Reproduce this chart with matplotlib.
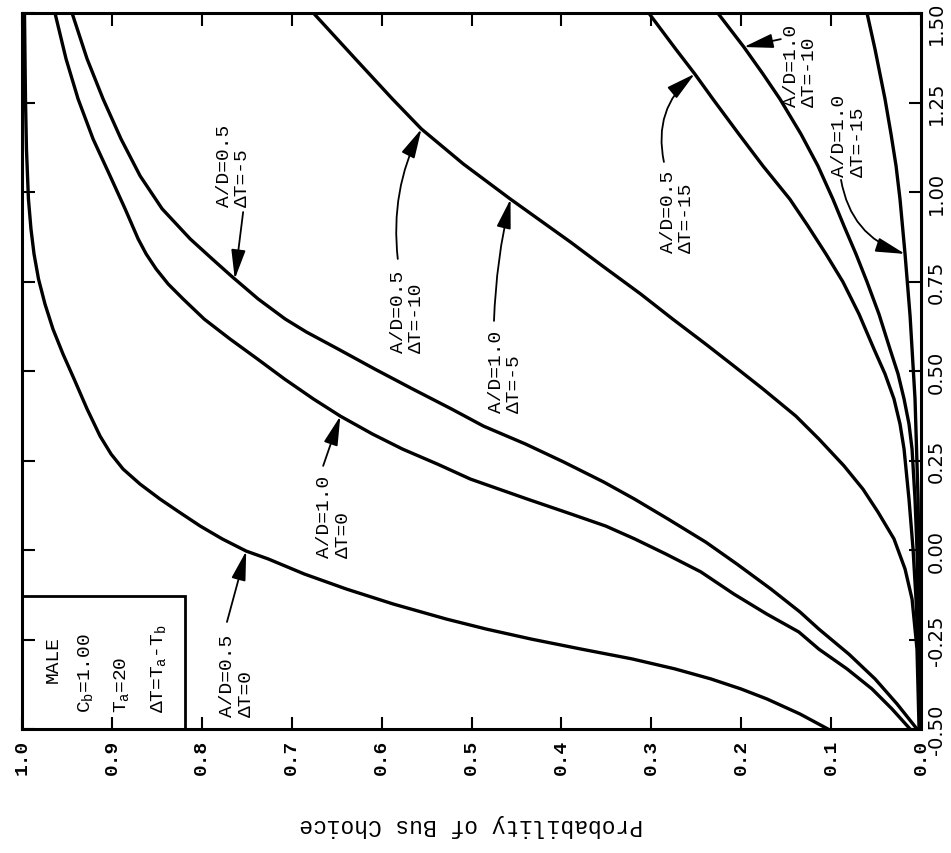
import numpy as np
import matplotlib
matplotlib.use('Agg')
import matplotlib.pyplot as plt
from matplotlib.patches import Rectangle
from matplotlib.transforms import ScaledTranslation

plt.rcParams['font.family'] = ['Liberation Mono', 'DejaVu Sans']
plt.rcParams['mathtext.fontset'] = 'custom'
plt.rcParams['mathtext.rm'] = 'Liberation Mono'
plt.rcParams['mathtext.it'] = 'Liberation Mono'
plt.rcParams['mathtext.default'] = 'rm'

# curves: x value (vertical axis) and probability of bus choice
c1_x = [-0.500, -0.458, -0.416, -0.388, -0.360, -0.332, -0.304, -0.277, -0.249, -0.221,
        -0.193, -0.151, -0.109, -0.067, -0.025, -0.003, 0.031, 0.067, 0.106, 0.142,
        0.184, 0.226, 0.268, 0.318, 0.394, 0.478, 0.547, 0.617, 0.687, 0.757,
        0.827, 0.897, 0.980, 1.120, 1.260, 1.500]
c1_p = [0.1036, 0.1347, 0.1715, 0.2004, 0.2339, 0.2739, 0.3218, 0.3775, 0.4332, 0.4833,
        0.5278, 0.5869, 0.6392, 0.6860, 0.7261, 0.7506, 0.7773, 0.8018, 0.8252, 0.8463,
        0.8686, 0.8875, 0.9009, 0.9131, 0.9276, 0.9421, 0.9543, 0.9655, 0.9744, 0.9816,
        0.9866, 0.9900, 0.9928, 0.9950, 0.9961, 0.9972]

c2_x = [-0.500, -0.444, -0.388, -0.332, -0.277, -0.229, -0.179, -0.123, -0.061, -0.011,
        0.031, 0.067, 0.101, 0.142, 0.198, 0.240, 0.282, 0.324, 0.374, 0.422,
        0.478, 0.534, 0.589, 0.645, 0.701, 0.743, 0.785, 0.827, 0.869, 0.953,
        1.045, 1.148, 1.260, 1.372, 1.500]
c2_p = [0.0122, 0.0323, 0.0546, 0.0824, 0.1136, 0.1359, 0.1715, 0.2082, 0.2450, 0.2840,
        0.3185, 0.3508, 0.3898, 0.4376, 0.5011, 0.5379, 0.5768, 0.6102, 0.6459, 0.6759,
        0.7082, 0.7383, 0.7684, 0.7973, 0.8207, 0.8374, 0.8508, 0.8619, 0.8708, 0.8853,
        0.9020, 0.9209, 0.9376, 0.9510, 0.9633]

c3_x = [-0.500, -0.430, -0.360, -0.291, -0.221, -0.173, -0.109, -0.039, 0.022, 0.087,
        0.142, 0.190, 0.246, 0.296, 0.346, 0.394, 0.450, 0.506, 0.561, 0.609,
        0.645, 0.701, 0.763, 0.813, 0.869, 0.953, 1.045, 1.148, 1.260, 1.372, 1.500]
c3_p = [0.0045, 0.0267, 0.0512, 0.0802, 0.1136, 0.1347, 0.1670, 0.2049, 0.2394, 0.2817,
        0.3185, 0.3530, 0.3976, 0.4399, 0.4866, 0.5223, 0.5657, 0.6080, 0.6481, 0.6837,
        0.7071, 0.7372, 0.7661, 0.7884, 0.8129, 0.8441, 0.8686, 0.8898, 0.9098, 0.9276,
        0.9443]

c4_x = [-0.500, -0.277, -0.137, -0.053, 0.031, 0.106, 0.170, 0.235, 0.310, 0.374,
        0.450, 0.514, 0.575, 0.645, 0.715, 0.793, 0.860, 0.980, 1.078, 1.176,
        1.260, 1.372, 1.500]
c4_p = [0.0022, 0.0045, 0.0100, 0.0178, 0.0301, 0.0479, 0.0646, 0.0857, 0.1136, 0.1392,
        0.1759, 0.2082, 0.2394, 0.2762, 0.3118, 0.3541, 0.3898, 0.4566, 0.5089, 0.5557,
        0.5880, 0.6292, 0.6759]

c5_x = [-0.500, -0.277, -0.137, 0.003, 0.142, 0.282, 0.352, 0.422, 0.492, 0.561,
        0.659, 0.749, 0.827, 0.905, 0.980, 1.073, 1.162, 1.260, 1.330, 1.399, 1.500]
c5_p = [0.0011, 0.0033, 0.0056, 0.0089, 0.0134, 0.0189, 0.0234, 0.0301, 0.0401, 0.0523,
        0.0690, 0.0869, 0.1058, 0.1258, 0.1459, 0.1759, 0.2027, 0.2316, 0.2517, 0.2728,
        0.3029]

c6_x = [-0.500, -0.277, 0.003, 0.142, 0.282, 0.352, 0.422, 0.492, 0.561, 0.659,
        0.749, 0.827, 0.905, 0.980, 1.073, 1.162, 1.260, 1.330, 1.405, 1.500]
c6_p = [0.0011, 0.0022, 0.0045, 0.0067, 0.0100, 0.0134, 0.0189, 0.0256, 0.0345, 0.0468,
        0.0601, 0.0724, 0.0857, 0.0980, 0.1147, 0.1336, 0.1570, 0.1759, 0.1971, 0.2261]

c7_x = [-0.500, -0.137, 0.142, 0.422, 0.654, 0.827, 0.980, 1.073, 1.162, 1.260, 1.399, 1.500]
c7_p = [0.0006, 0.0017, 0.0033, 0.0067, 0.0122, 0.0178, 0.0234, 0.0278, 0.0334, 0.0401,
        0.0512, 0.0601]

curves = [(c1_x, c1_p), (c2_x, c2_p), (c3_x, c3_p), (c4_x, c4_p),
          (c5_x, c5_p), (c6_x, c6_p), (c7_x, c7_p)]

prob_ticks = [1.0, 0.9, 0.8, 0.7, 0.6, 0.5, 0.4, 0.3, 0.2, 0.1, 0.0]
prob_labels = ['1.0', '0.9', '0.8', '0.7', '0.6', '0.5', '0.4', '0.3', '0.2', '0.1', '0.0']
xv_ticks = [-0.50, -0.25, 0.00, 0.25, 0.50, 0.75, 1.00, 1.25, 1.50]
xv_labels = ['-0.50', '-0.25', '0.00', '0.25', '0.50', '0.75', '1.00', '1.25', '1.50']

# labels: text, curve index, text pos (p, x), arrow start (p, x), arrow tip x, arc
labels = [
    ('A/D=0.5\nΔT=0', 0, (0.761, -0.464), (0.772, -0.201), -0.003, 0.0),
    ('A/D=1.0\nΔT=0', 1, (0.653, -0.020), (0.665, 0.235), 0.374, 0.0),
    ('A/D=0.5\nΔT=-5', 2, (0.765, 0.961), (0.754, 0.944), 0.757, 0.0),
    ('A/D=0.5\nΔT=-10', 3, (0.571, 0.553), (0.582, 0.813), 1.176, -0.15),
    ('A/D=1.0\nΔT=-5', 3, (0.462, 0.385), (0.475, 0.640), 0.980, -0.05),
    ('A/D=0.5\nΔT=-15', 4, (0.271, 0.832), (0.286, 1.084), 1.33, -0.3),
    ('A/D=1.0\nΔT=-10', 5, (0.134, 1.240), (0.156, 1.427), 1.405, 0.0),
    ('A/D=1.0\nΔT=-15', 6, (0.080, 1.045), (0.089, 1.034), 0.827, 0.3),
]

fig = plt.figure(figsize=(9.51, 8.54), dpi=100)
ax = fig.add_axes([0.0231, 0.1452, 0.9454, 0.8384])

for cx, cp in curves:
    ax.plot(cp, cx, color='black', lw=2.4, solid_joinstyle='round')

for text, ci, tpos, start, tip_x, rad in labels:
    cx, cp = curves[ci]
    tip_p = np.interp(tip_x, cx, cp)
    ax.text(tpos[0], tpos[1], text, rotation=90, ha='center', va='bottom',
            multialignment='left', fontsize=14, linespacing=1.1)
    ax.annotate('', xy=(tip_p, tip_x), xytext=start,
                arrowprops=dict(arrowstyle='-|>,head_length=0.9,head_width=0.22',
                                connectionstyle='arc3,rad=%s' % rad,
                                color='black', lw=1.3, mutation_scale=20,
                                shrinkA=0, shrinkB=0))

# legend box in the corner
ax.add_patch(Rectangle((0.8185, -0.5), 0.1815, 0.371, fill=False, lw=2, edgecolor='black'))
ax.text(0.9655, -0.304, 'MALE', rotation=90, ha='center', va='center', fontsize=14)
ax.text(0.9290, -0.452, 'C$_b$=1.00', rotation=90, ha='center', va='bottom', fontsize=14)
ax.text(0.8890, -0.452, 'T$_a$=20', rotation=90, ha='center', va='bottom', fontsize=14)
ax.text(0.8480, -0.452, 'ΔT=T$_a$-T$_b$', rotation=90, ha='center', va='bottom', fontsize=14)

ax.set_xlim(1.0, 0.0)
ax.set_ylim(-0.5, 1.5)
ax.set_xticks(prob_ticks)
ax.set_xticklabels(prob_labels, rotation=90, fontsize=14, fontweight='bold')
ax.yaxis.tick_right()
ax.set_yticks(xv_ticks)
ax.set_yticklabels(xv_labels, rotation=90, va='center', fontsize=14, family='DejaVu Sans')
ax.tick_params(axis='both', direction='in', length=9, width=1.5,
               top=True, bottom=True, left=True, right=True,
               labelleft=False, labelright=True)
ax.tick_params(axis='x', pad=7)
ax.tick_params(axis='y', pad=4)
for s in ax.spines.values():
    s.set_linewidth(2.2)

# keep the top label inside the picture
top_lab = ax.get_yticklabels()[-1]
top_lab.set_transform(top_lab.get_transform() + ScaledTranslation(0, -7 / 72, fig.dpi_scale_trans))

ax.set_xlabel('Probability of Bus Choice', rotation=180, fontsize=16.5, labelpad=28)

fig.savefig('out.png', dpi=100)
